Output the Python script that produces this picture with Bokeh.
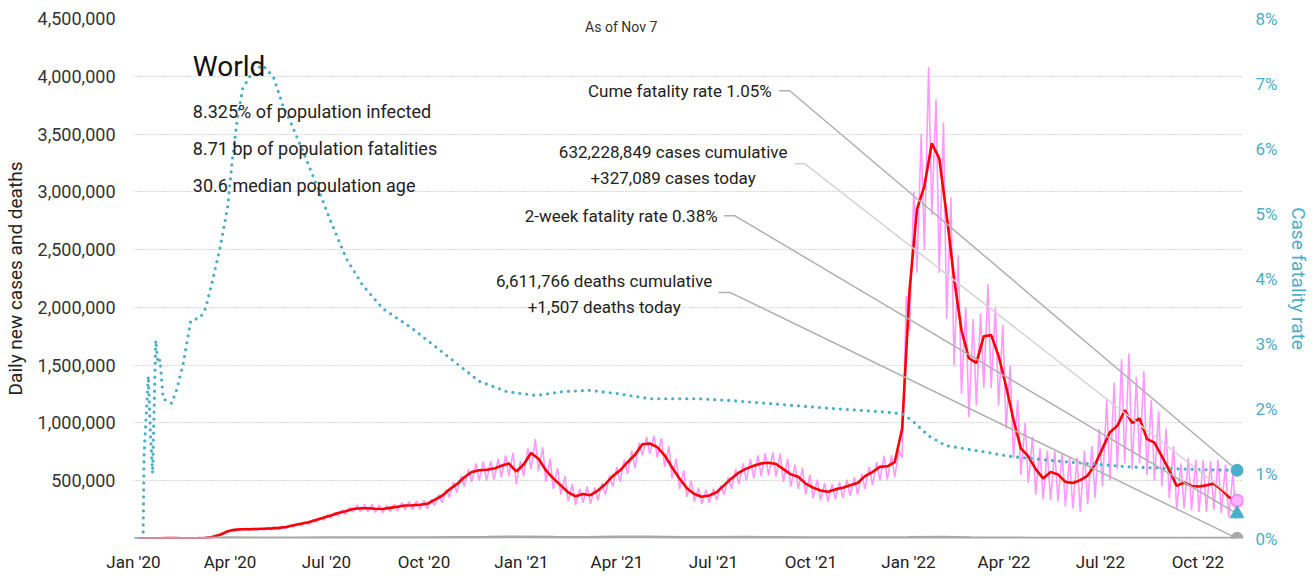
import pandas as pd
from bokeh.plotting import figure
from bokeh.models import (Range1d, LinearAxis, FixedTicker, NumeralTickFormatter,
                          PrintfTickFormatter, DatetimeTickFormatter)
from bokeh.core.properties import value
from bokeh.embed import file_html
from bokeh.resources import INLINE

FONT = "Roboto"

# ---------------- data ----------------
# weekly 7-day average of new cases (thousands), Sundays from 2020-01-05
avg_cases_k = [0, 0, 0, 2, 3, 3, 2, 1, 2, 4,
               12, 30, 60, 75, 80, 80, 82, 85, 88, 92,
               100, 115, 128, 140, 160, 180, 200, 220, 235, 255,
               262, 262, 258, 255, 265, 275, 285, 288, 292, 300,
               335, 370, 425, 470, 530, 575, 590, 595, 605, 630,
               650, 580, 640, 740, 690, 590, 520, 460, 400, 365,
               385, 375, 415, 470, 540, 590, 660, 725, 815, 822,
               790, 720, 615, 520, 435, 385, 362, 372, 400, 460,
               520, 570, 605, 630, 650, 655, 645, 600, 555, 535,
               475, 440, 415, 405, 425, 440, 460, 480, 540, 575,
               620, 625, 660, 950, 2150, 2850, 3050, 3420, 3290, 2800,
               2250, 1800, 1560, 1520, 1750, 1760, 1580, 1320, 1030, 780,
               710, 600, 520, 575, 555, 490, 480, 505, 545, 640,
               780, 920, 975, 1110, 1000, 1040, 860, 830, 710, 590,
               455, 485, 455, 450, 460, 475, 425, 360, 320]
# daily new cases: mid-week highs (Thursdays) and weekend lows (Sundays), thousands
high_k = [0, 0, 1, 3, 4, 5, 3, 2, 3, 6,
          18, 40, 72, 88, 90, 92, 92, 95, 98, 104,
          115, 130, 145, 160, 182, 205, 228, 250, 268, 290,
          295, 295, 290, 288, 298, 310, 320, 325, 330, 340,
          380, 425, 490, 540, 600, 650, 665, 670, 690, 720,
          740, 670, 780, 860, 790, 690, 610, 540, 470, 430,
          450, 440, 480, 545, 620, 680, 760, 830, 880, 890,
          870, 800, 690, 590, 500, 440, 420, 430, 460, 530,
          600, 650, 690, 720, 740, 745, 735, 690, 640, 610,
          550, 510, 480, 470, 490, 510, 530, 560, 620, 660,
          710, 720, 760, 2100, 3000, 3500, 4080, 3800, 3600, 2950,
          2450, 2000, 1900, 1950, 2200, 2000, 1850, 1500, 1200, 1000,
          880, 780, 760, 760, 740, 700, 700, 760, 800, 950,
          1200, 1350, 1550, 1600, 1400, 1450, 1200, 1100, 950, 800,
          650, 700, 680, 680, 670, 680, 640, 560]
low_k = [0, 0, 0, 1, 2, 2, 1, 1, 1, 3,
         10, 25, 50, 65, 70, 70, 70, 72, 76, 80,
         86, 100, 110, 122, 140, 160, 175, 195, 210, 228,
         232, 230, 226, 222, 230, 238, 248, 250, 252, 258,
         285, 310, 355, 395, 450, 490, 500, 500, 510, 530,
         540, 470, 540, 600, 580, 490, 430, 380, 320, 290,
         310, 300, 330, 380, 450, 490, 560, 610, 720, 730,
         700, 620, 520, 430, 360, 320, 300, 310, 330, 380,
         430, 470, 500, 520, 540, 545, 535, 490, 450, 430,
         380, 350, 330, 320, 340, 350, 370, 380, 430, 460,
         500, 510, 530, 700, 1800, 2300, 2500, 2800, 2300, 1900,
         1500, 1250, 1050, 1150, 1300, 1300, 1150, 950, 700, 550,
         480, 380, 340, 330, 320, 280, 260, 230, 300, 350,
         450, 500, 600, 650, 600, 650, 550, 500, 450, 350,
         250, 260, 240, 230, 230, 250, 220, 180, 170]

# daily deaths (thousands), month starts
death_dates = ["2020-01-03", "2020-02-01", "2020-03-01", "2020-04-01", "2020-05-01", "2020-06-01",
               "2020-07-01", "2020-08-01", "2020-09-01", "2020-10-01", "2020-11-01", "2020-12-01",
               "2021-01-01", "2021-02-01", "2021-03-01", "2021-04-01", "2021-05-01", "2021-06-01",
               "2021-07-01", "2021-08-01", "2021-09-01", "2021-10-01", "2021-11-01", "2021-12-01",
               "2022-01-01", "2022-02-01", "2022-03-01", "2022-04-01", "2022-05-01", "2022-06-01",
               "2022-07-01", "2022-08-01", "2022-09-01", "2022-10-01", "2022-11-01", "2022-11-07"]
deaths_k = [0.02, 0.1, 1.5, 6.5, 4.5, 4.5, 5.5, 5.8, 5.5, 6, 9.5, 11.5,
            14, 11, 9, 12, 12.5, 9, 8, 10, 8.5, 7, 7, 7,
            8, 11, 6.5, 4, 2.3, 1.8, 2.2, 2.3, 1.8, 1.7, 1.5, 1.507]

# cumulative case fatality rate (%)
cfr_dates = ["2020-01-03", "2020-01-10", "2020-01-11", "2020-01-15", "2020-01-17", "2020-01-19",
             "2020-01-22", "2020-01-24", "2020-01-26", "2020-01-29", "2020-02-06", "2020-02-11",
             "2020-02-17", "2020-02-24", "2020-03-04", "2020-03-09", "2020-03-16", "2020-03-23",
             "2020-03-30", "2020-04-03", "2020-04-08", "2020-04-13", "2020-04-23", "2020-05-02",
             "2020-05-12", "2020-05-21", "2020-05-31", "2020-06-09", "2020-06-22", "2020-07-04",
             "2020-07-20", "2020-08-04", "2020-08-23", "2020-09-20", "2020-10-22", "2020-11-22",
             "2020-12-18", "2021-01-15", "2021-02-09", "2021-03-06", "2021-04-01", "2021-05-02",
             "2021-06-18", "2021-07-19", "2021-08-20", "2021-10-21", "2021-12-07", "2021-12-26",
             "2022-01-04", "2022-01-20", "2022-02-05", "2022-02-24", "2022-03-18", "2022-04-08",
             "2022-05-29", "2022-07-30", "2022-10-01", "2022-11-07"]
cfr_vals = [0, 0, 1.3, 2.5, 1.6, 1.0, 3.05, 2.7, 2.75, 2.15, 2.08, 2.3,
            2.7, 3.35, 3.4, 3.54, 4.0, 4.5, 5.12, 5.8, 6.46, 6.92, 7.2, 7.28,
            7.1, 6.66, 6.3, 5.95, 5.43, 4.92, 4.3, 3.9, 3.54, 3.23, 2.82, 2.42,
            2.26, 2.2, 2.26, 2.28, 2.23, 2.15, 2.15, 2.12, 2.08, 2.0, 1.95, 1.92,
            1.82, 1.58, 1.43, 1.38, 1.32, 1.26, 1.18, 1.1, 1.06, 1.05]

last_date = "2022-11-07"
cases_today = 327089
avg_today_k = 325
deaths_today = 1507
cume_cfr = 1.05
two_week_cfr = 0.38

title = "World"
facts = ["8.325% of population infected", "8.71 bp of population fatalities", "30.6 median population age"]
as_of = "As of Nov 7"
lbl_cume = "Cume fatality rate 1.05%"
lbl_cases = ["632,228,849 cases cumulative", "+327,089 cases today"]
lbl_2wk = "2-week fatality rate 0.38%"
lbl_deaths = ["6,611,766 deaths cumulative", "+1,507 deaths today"]

left_ticks = [500000, 1000000, 1500000, 2000000, 2500000, 3000000, 3500000, 4000000, 4500000]
right_ticks = [0, 1, 2, 3, 4, 5, 6, 7, 8]
x_tick_dates = ["2020-01-01", "2020-04-01", "2020-07-01", "2020-10-01", "2021-01-01", "2021-04-01",
                "2021-07-01", "2021-10-01", "2022-01-01", "2022-04-01", "2022-07-01", "2022-10-01"]

# ---------------- build ----------------
T = pd.Timestamp
sundays = pd.date_range("2020-01-05", periods=len(avg_cases_k), freq="7D")
thursdays = sundays[:len(high_k)] + pd.Timedelta(days=4)
end = T(last_date)

pink_x, pink_y = [], []
for i in range(len(low_k)):
    pink_x.append(sundays[i]); pink_y.append(low_k[i] * 1000)
    if i < len(high_k):
        pink_x.append(thursdays[i]); pink_y.append(high_k[i] * 1000)
pink_x.append(end); pink_y.append(cases_today)

red_x = list(sundays) + [end]
red_y = [v * 1000 for v in avg_cases_k] + [avg_today_k * 1000]

YMAX = 4500000
RMAX = 8

p = figure(frame_width=1110, frame_height=520, x_axis_type="datetime",
           x_range=Range1d(T("2020-01-01"), end + pd.Timedelta(days=6)),
           y_range=Range1d(0, YMAX), output_backend="svg", toolbar_location=None,
           min_border_left=125, min_border_right=10, min_border_top=18, min_border_bottom=10)
p.extra_y_ranges = {"cfr": Range1d(0, RMAX)}
p.outline_line_color = None
p.background_fill_color = "white"
p.border_fill_color = "white"

# axes
TXT = "#333333"
BLUE = "#4aaec9"
ya = p.yaxis[0]
ya.ticker = FixedTicker(ticks=left_ticks)
ya.formatter = NumeralTickFormatter(format="0,0")
ya.axis_label = "Daily new cases and deaths"
ya.axis_label_text_font = FONT
ya.axis_label_text_font_style = "normal"
ya.axis_label_text_font_size = "19px"
ya.axis_label_text_color = "#222222"
ya.axis_label_standoff = 8
ya.major_label_text_font = FONT
ya.major_label_text_font_size = "18px"
ya.major_label_text_color = TXT
ya.major_label_standoff = 18

ra = LinearAxis(y_range_name="cfr", ticker=FixedTicker(ticks=right_ticks),
                formatter=PrintfTickFormatter(format="%d%%"))
ra.axis_label = "Case fatality rate"
ra.axis_label_text_font = FONT
ra.axis_label_text_font_style = "normal"
ra.axis_label_text_font_size = "19px"
ra.axis_label_text_color = BLUE
ra.axis_label_standoff = 6
ra.major_label_text_font = FONT
ra.major_label_text_font_size = "17px"
ra.major_label_text_color = BLUE
ra.major_label_standoff = 12
p.add_layout(ra, "right")

xa = p.xaxis[0]
xa.ticker = FixedTicker(ticks=[T(d).timestamp() * 1000 for d in x_tick_dates])
fmt = "%b '%y"
xa.formatter = DatetimeTickFormatter(days=fmt, months=fmt, years=fmt, hours=fmt, minutes=fmt)
xa.major_label_text_font = FONT
xa.major_label_text_font_size = "17px"
xa.major_label_text_color = "#222222"
xa.major_label_standoff = 13

for ax in [ya, ra, xa]:
    ax.axis_line_color = None
    ax.major_tick_line_color = None
    ax.minor_tick_line_color = None
    ax.major_tick_out = 0
    ax.major_tick_in = 0
    ax.minor_tick_out = 0
    ax.minor_tick_in = 0

p.xgrid.grid_line_color = None
p.ygrid.grid_line_color = "#b5b5b5"
p.ygrid.grid_line_dash = "1 2"
p.ygrid.grid_line_width = 1

# series
p.line(pink_x, pink_y, line_color="#ff99ff", line_width=1.6)
p.line(red_x, red_y, line_color="#ff0000", line_width=2.6)
p.line([T(d) for d in death_dates], [v * 1000 for v in deaths_k], line_color="#a8a8a8", line_width=3)
p.line([T(d) for d in cfr_dates], cfr_vals, y_range_name="cfr", line_color=BLUE,
       line_width=3.2, line_dash="0 7", line_cap="round")

# leader lines (left-axis units)
to_left = YMAX / RMAX
GL = "#b0b0b0"
p.line([T("2021-09-01"), T("2021-09-11"), end], [3875000, 3875000, cume_cfr * to_left],
       line_color=GL, line_width=1.5)
p.line([T("2021-09-16"), T("2021-09-25"), end], [3244000, 3244000, cases_today],
       line_color="#d4d4d4", line_width=1.5)
p.line([T("2021-07-11"), T("2021-07-21"), end], [2794000, 2794000, two_week_cfr * to_left],
       line_color=GL, line_width=1.5)
p.line([T("2021-07-06"), T("2021-07-17"), end], [2128000, 2128000, deaths_today],
       line_color=GL, line_width=1.5)

# end markers
p.scatter([end], [cume_cfr], y_range_name="cfr", marker="circle", size=12,
          fill_color=BLUE, line_color=BLUE)
p.scatter([end], [cases_today], marker="circle", size=12, fill_color="#ffb3ff",
          line_color="#ff88ff", line_width=2)
p.scatter([end], [two_week_cfr], y_range_name="cfr", marker="triangle", size=14,
          fill_color=BLUE, line_color=BLUE)
p.scatter([end], [deaths_today], marker="circle", size=12, fill_color="#a8a8a8",
          line_color="#a8a8a8")

# texts
F = value(FONT)
p.text([T("2020-02-26")], [4083000], text=[title], text_font=F, text_font_size="28px",
       text_color="#111111", text_baseline="middle")
p.text([T("2020-02-26")] * 3, [3694000, 3374000, 3054000], text=facts, text_font=F,
       text_font_size="18px", text_color="#222222", text_baseline="middle")
p.text([T("2021-04-05")], [4430000], text=[as_of], text_font=F, text_font_size="14px",
       text_color="#333333", text_align="center", text_baseline="middle")
p.text([T("2021-08-25")], [3875000], text=[lbl_cume], text_font=F, text_font_size="17px",
       text_color="#222222", text_align="right", text_baseline="middle")
p.text([T("2021-05-24")] * 2, [3348000, 3123000], text=lbl_cases, text_font=F,
       text_font_size="17px", text_color="#222222", text_align="center", text_baseline="middle")
p.text([T("2021-07-05")], [2794000], text=[lbl_2wk], text_font=F, text_font_size="17px",
       text_color="#222222", text_align="right", text_baseline="middle")
p.text([T("2021-03-20")] * 2, [2232000, 2007000], text=lbl_deaths, text_font=F,
       text_font_size="17px", text_color="#222222", text_align="center", text_baseline="middle")

open("out.html", "w").write(file_html(p, INLINE))
